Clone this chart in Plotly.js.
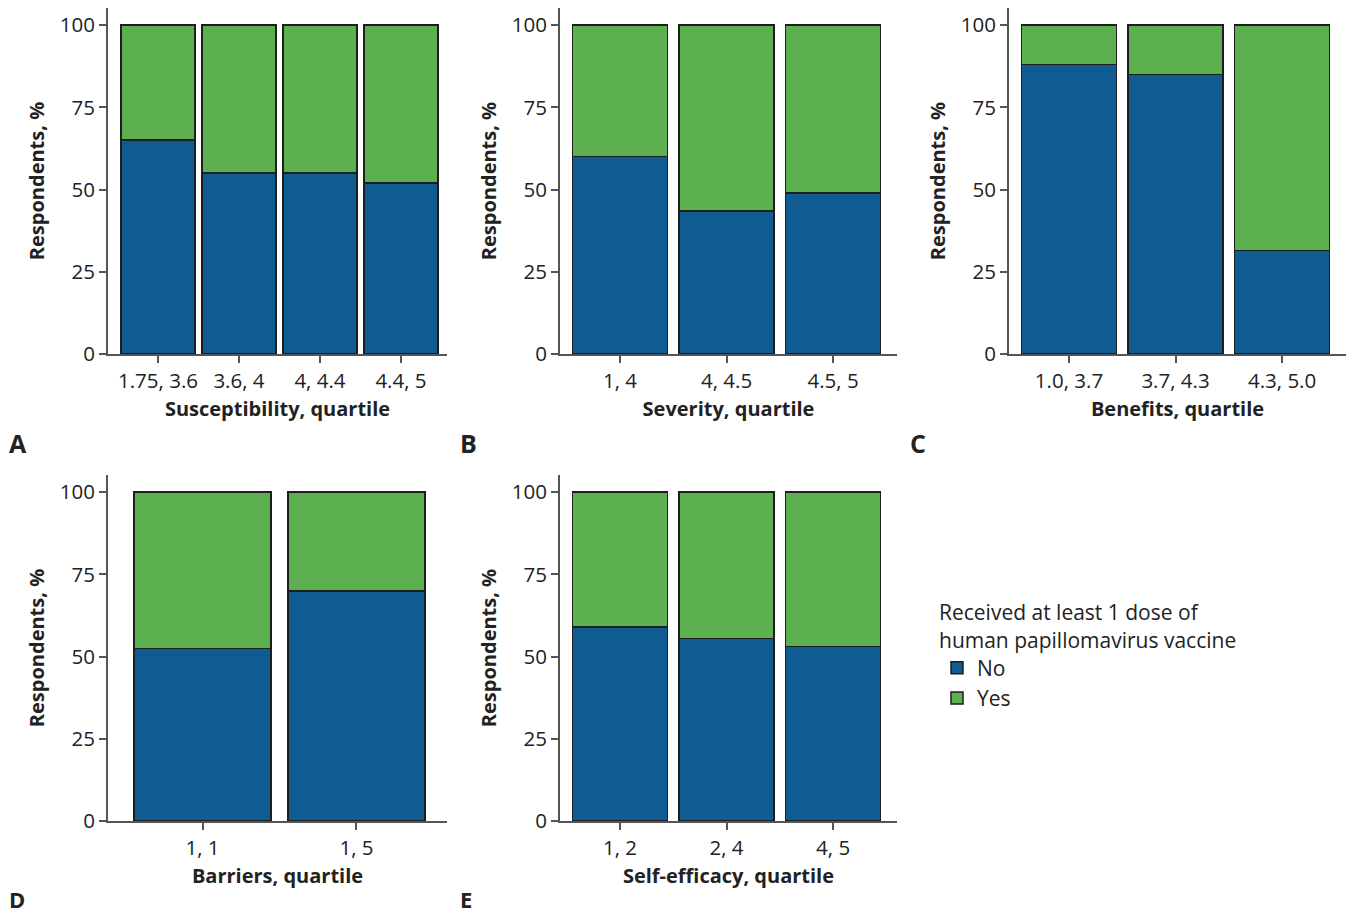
<!DOCTYPE html>
<html>
<head>
<meta charset="utf-8">
<script src="https://cdn.plot.ly/plotly-3.0.1.min.js"></script>
<style>html,body{margin:0;padding:0;background:#fff}#chart{width:1354px;height:916px}</style>
</head>
<body>
<div id="chart"></div>
<script>
// ---- data ----
const susceptibilityCats = ["1.75, 3.6", "3.6, 4", "4, 4.4", "4.4, 5"];
const susceptibilityNo = [65, 55, 55, 52];
const severityCats = ["1, 4", "4, 4.5", "4.5, 5"];
const severityNo = [60, 43.5, 49];
const benefitsCats = ["1.0, 3.7", "3.7, 4.3", "4.3, 5.0"];
const benefitsNo = [88, 85, 31.5];
const barriersCats = ["1, 1", "1, 5"];
const barriersNo = [52.5, 70];
const selfEfficacyCats = ["1, 2", "2, 4", "4, 5"];
const selfEfficacyNo = [59, 55.5, 53];
const panelTitles = ["Susceptibility, quartile", "Severity, quartile", "Benefits, quartile", "Barriers, quartile", "Self-efficacy, quartile"];
const panelLetters = ["A", "B", "C", "D", "E"];
const yTicks = [0, 25, 50, 75, 100];
const legendTitle = "Received at least 1 dose of<br>human papillomavirus vaccine";

const panels = [
  {cats: susceptibilityCats, no: susceptibilityNo},
  {cats: severityCats, no: severityNo},
  {cats: benefitsCats, no: benefitsNo},
  {cats: barriersCats, no: barriersNo},
  {cats: selfEfficacyCats, no: selfEfficacyNo}
];

// ---- layout geometry (pixels) ----
const W = 1354, H = 916;
const geo = [
  {x0: 108, x1: 447, y0: 354, y1: 8, lo: -0.617, hi: 3.568, bw: 0.914, lx: 8, ly: 443, ls: 25},
  {x0: 560, x1: 897, y0: 354, y1: 8, lo: -0.563, hi: 2.6, bw: 0.89, lx: 459, ly: 443, ls: 25},
  {x0: 1009, x1: 1346, y0: 354, y1: 8, lo: -0.563, hi: 2.6, bw: 0.89, lx: 909, ly: 443, ls: 25},
  {x0: 108, x1: 447, y0: 821, y1: 475, lo: -0.614, hi: 1.588, bw: 0.89, lx: 8, ly: 899, ls: 22},
  {x0: 560, x1: 897, y0: 821, y1: 475, lo: -0.563, hi: 2.6, bw: 0.89, lx: 459, ly: 899, ls: 22}
];

const BLUE = "#0f5c92", GREEN = "#5cb050", OUT = "#1e1e1e", AX = "#555555";
const FONT = "Open Sans, Noto Sans, sans-serif";

const traces = [];
const layout = {
  width: W, height: H,
  margin: {l: 0, r: 0, t: 0, b: 0},
  paper_bgcolor: "#fff", plot_bgcolor: "#fff",
  barmode: "stack",
  font: {family: FONT, size: 20, color: "#222"},
  showlegend: true,
  legend: {
    x: 937 / W, y: 1 - 593 / H, xanchor: "left", yanchor: "top",
    title: {text: legendTitle, font: {size: 21, color: "#222"}},
    font: {size: 21, color: "#222"},
    traceorder: "normal",
    tracegroupgap: 0,
    itemwidth: 30
  },
  annotations: []
};

panels.forEach((p, i) => {
  const g = geo[i];
  const sfx = i === 0 ? "" : String(i + 1);
  const xa = "x" + sfx, ya = "y" + sfx;
  const yes = p.no.map(v => 100 - v);
  traces.push({
    type: "bar", x: p.cats, y: p.no, name: "No", xaxis: xa, yaxis: ya,
    width: g.bw, marker: {color: BLUE, line: {color: OUT, width: 1.5}},
    legendgroup: "No", showlegend: i === 0, hoverinfo: "x+y"
  });
  traces.push({
    type: "bar", x: p.cats, y: yes, name: "Yes", xaxis: xa, yaxis: ya,
    width: g.bw, marker: {color: GREEN, line: {color: OUT, width: 1.5}},
    legendgroup: "Yes", showlegend: i === 0, hoverinfo: "x+y"
  });
  layout["xaxis" + sfx] = {
    domain: [g.x0 / W, g.x1 / W], anchor: ya, type: "category",
    range: [g.lo, g.hi], showgrid: false, zeroline: false,
    showline: true, linecolor: AX, linewidth: 2,
    ticks: "outside", ticklen: 7, tickwidth: 2, tickcolor: AX,
    tickfont: {size: 20.5, color: "#222"},
    title: {text: panelTitles[i], font: {size: 20, color: "#222", weight: "bold"}, standoff: 9},
    fixedrange: true
  };
  layout["yaxis" + sfx] = {
    domain: [1 - g.y0 / H, 1 - g.y1 / H], anchor: xa,
    range: [0, 105.2], tickvals: yTicks, showgrid: false, zeroline: false,
    showline: true, linecolor: AX, linewidth: 2,
    ticks: "outside", ticklen: 7, tickwidth: 2, tickcolor: AX,
    tickfont: {size: 20.5, color: "#222"},
    title: {text: "Respondents, %", font: {size: 20, color: "#222", weight: "bold"}, standoff: 10},
    fixedrange: true
  };
  layout.annotations.push({
    text: panelLetters[i], xref: "paper", yref: "paper",
    x: g.lx / W, y: 1 - g.ly / H, xanchor: "left", yanchor: "middle",
    borderpad: 0,
    showarrow: false, font: {size: g.ls, color: "#222", weight: "bold"}
  });
});

Plotly.newPlot("chart", traces, layout, {displayModeBar: false, staticPlot: true});
</script>
</body>
</html>
